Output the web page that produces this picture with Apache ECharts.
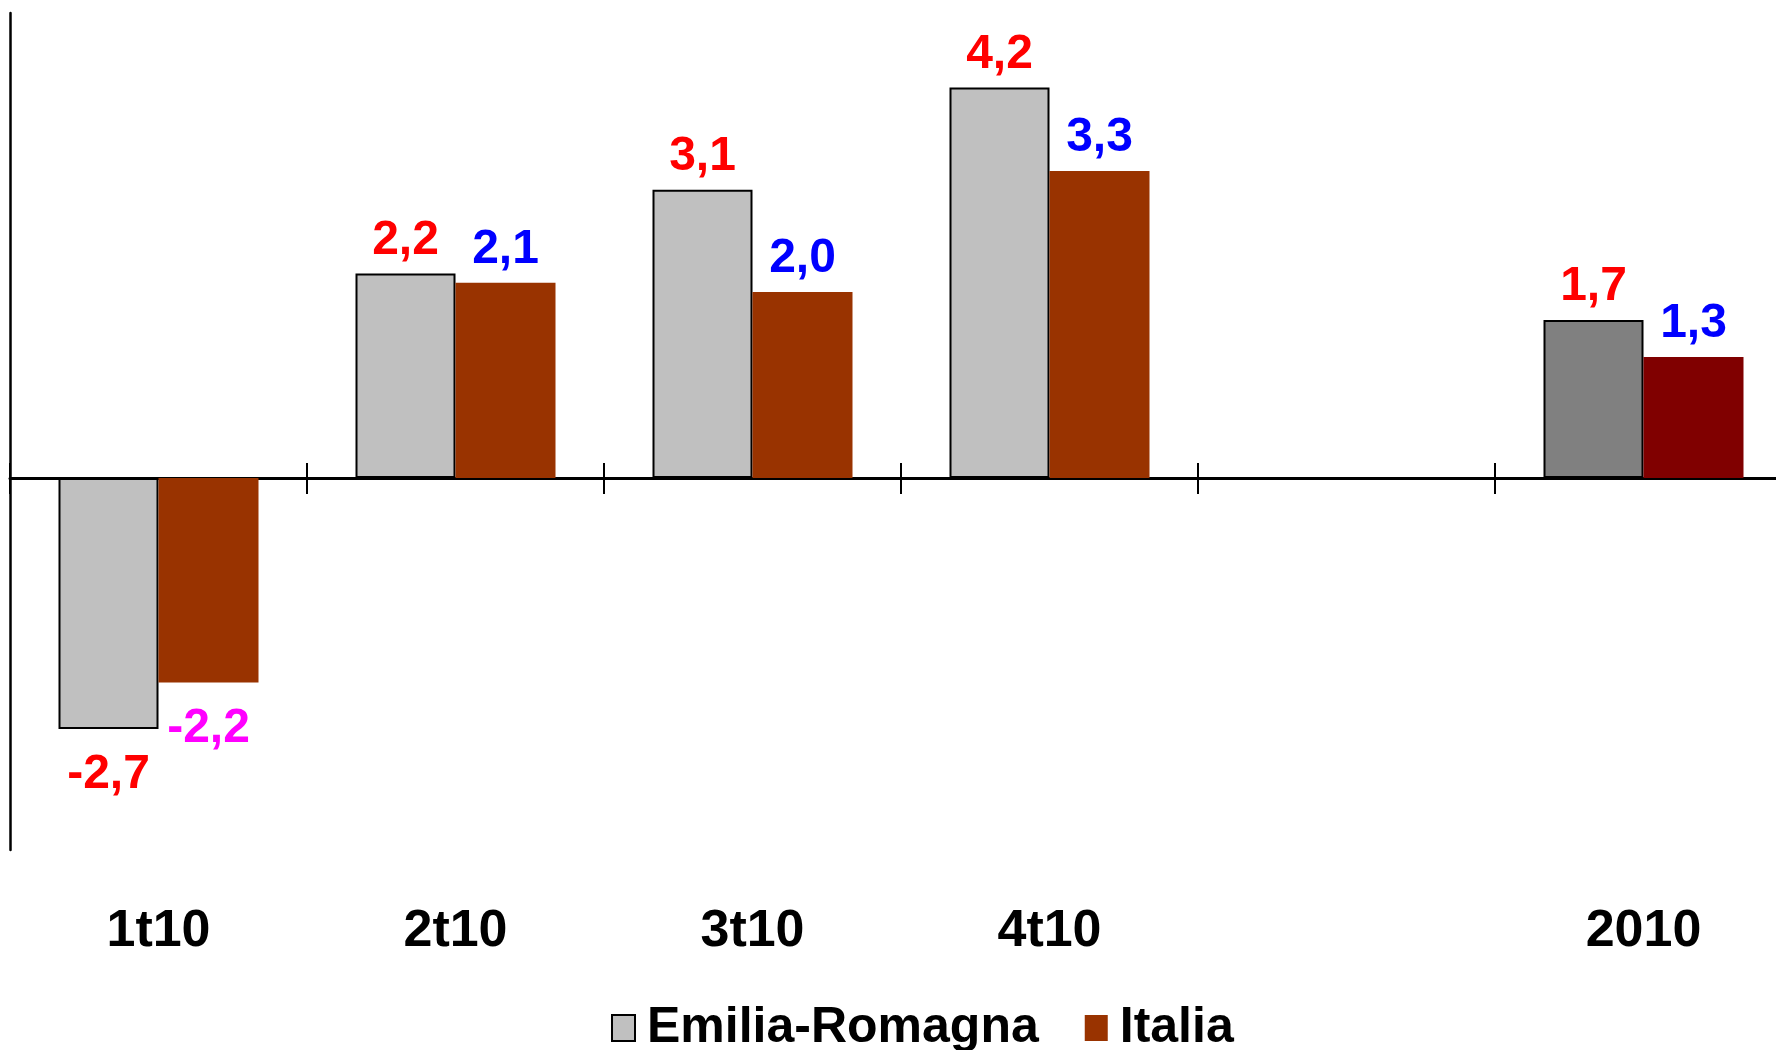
<!DOCTYPE html>
<html>
<head>
<meta charset="utf-8">
<script src="https://cdn.jsdelivr.net/npm/echarts@6/dist/echarts.min.js"></script>
<style>
html,body{margin:0;padding:0;background:#fff;}
#chart{width:1776px;height:1050px;}
</style>
</head>
<body>
<div id="chart"></div>
<script>
// ---- data ----
const categories = ['1t10', '2t10', '3t10', '4t10', '', '2010'];
const seriesNames = ['Emilia-Romagna', 'Italia'];
const emiliaValues = [-2.7, 2.2, 3.1, 4.2, null, 1.7];
const italiaValues = [-2.2, 2.1, 2.0, 3.3, null, 1.3];

// ---- styles ----
const FONT = '"Liberation Sans", Arial, sans-serif';
const emiliaColor = '#C0C0C0', emiliaTotalColor = '#808080';
const italiaColor = '#993300', italiaTotalColor = '#800000';
const emiliaLabelColor = '#FF0000';
const italiaLabelColor = '#0000FF', italiaNegLabelColor = '#FF00FF';

function fmt(v) { return v.toFixed(1).replace('.', ','); }

function buildData(values, baseColor, totalColor, labelColor, negLabelColor, negDist) {
  return values.map((v, i) => {
    if (v == null) return null;
    const isTotal = i === values.length - 1;
    const neg = v < 0;
    return {
      value: v,
      itemStyle: { color: isTotal ? totalColor : baseColor },
      label: {
        position: neg ? 'bottom' : 'top',
        distance: neg ? negDist : 9,
        color: neg ? negLabelColor : labelColor
      }
    };
  });
}

const chart = echarts.init(document.getElementById('chart'), null, { renderer: 'canvas' });
const labelBase = {
  show: true,
  fontFamily: FONT,
  fontWeight: 'bold',
  fontSize: 48,
  formatter: p => fmt(p.value)
};

chart.setOption({
  animation: false,
  backgroundColor: '#ffffff',
  textStyle: { fontFamily: FONT },
  grid: { left: 10, width: 1782, top: 13, bottom: 200, containLabel: false, outerBoundsMode: 'none' },
  legend: {
    data: seriesNames,
    left: 606,
    top: 998,
    icon: 'rect',
    itemWidth: 23,
    itemHeight: 26,
    itemGap: 46,
    textStyle: { fontFamily: FONT, fontWeight: 'bold', fontSize: 50, color: '#000', padding: [0, 0, 0, 7] }
  },
  xAxis: [
    {
      type: 'category',
      data: categories,
      position: 'bottom',
      axisLine: { show: false, onZero: false },
      axisTick: { show: false },
      axisLabel: { show: true, margin: 56, color: '#000', fontFamily: FONT, fontWeight: 'bold', fontSize: 52 },
      splitLine: { show: false }
    },
    {
      type: 'category',
      data: categories,
      position: 'bottom',
      axisLine: { show: true, onZero: true, onZeroAxisIndex: 0, lineStyle: { color: '#000', width: 3 } },
      axisTick: { show: true, inside: false, length: 16, alignWithLabel: false, lineStyle: { color: '#000', width: 2 } },
      axisLabel: { show: false },
      splitLine: { show: false }
    },
    {
      type: 'category',
      data: categories,
      position: 'bottom',
      axisLine: { show: false, onZero: true, onZeroAxisIndex: 0 },
      axisTick: { show: true, inside: true, length: 15, lineStyle: { color: '#000', width: 2 } },
      axisLabel: { show: false },
      splitLine: { show: false }
    }
  ],
  yAxis: {
    type: 'value',
    min: -4,
    max: 5,
    interval: 1,
    axisLine: { show: true, onZero: false, lineStyle: { color: '#000', width: 2.5 } },
    axisTick: { show: false },
    axisLabel: { show: false },
    splitLine: { show: false }
  },
  series: [
    {
      name: seriesNames[0],
      type: 'bar',
      xAxisIndex: 0,
      barWidth: 100,
      barGap: '0%',
      itemStyle: { color: emiliaColor, borderColor: '#000', borderWidth: 2 },
      label: Object.assign({}, labelBase, { color: emiliaLabelColor }),
      data: buildData(emiliaValues, emiliaColor, emiliaTotalColor, emiliaLabelColor, emiliaLabelColor, 22)
    },
    {
      name: seriesNames[1],
      type: 'bar',
      xAxisIndex: 0,
      barWidth: 100,
      barGap: '0%',
      itemStyle: { color: italiaColor },
      label: Object.assign({}, labelBase, { color: italiaLabelColor }),
      data: buildData(italiaValues, italiaColor, italiaTotalColor, italiaLabelColor, italiaNegLabelColor, 22)
    }
  ]
});
</script>
</body>
</html>
